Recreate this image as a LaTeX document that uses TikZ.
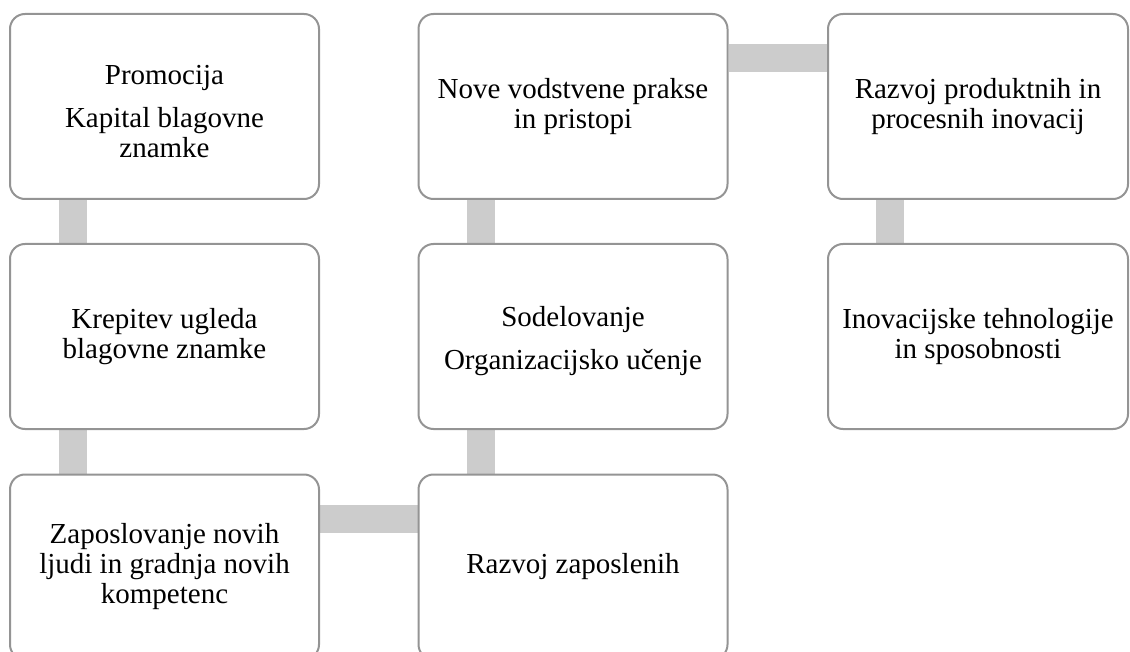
\documentclass[tikz,border=0pt]{standalone}
\usepackage{fontspec}
\setmainfont{Liberation Serif}
\usetikzlibrary{backgrounds}

\begin{document}
\begin{tikzpicture}[x=1pt,y=-1pt,
  box/.style={draw=black!42, line width=2pt, rounded corners=15pt, fill=white,
    minimum width=309pt, minimum height=185pt, align=center,
    font=\fontsize{29}{30}\selectfont},
  link/.style={draw=black!20, line width=28pt}]
\useasboundingbox (0,0) rectangle (1130,652);

\node[box] (1) at (164.5,106.5) {\rule{0pt}{30pt}Promocija\\[13pt]Kapital blagovne\\znamke};
\node[box] (2) at (164.5,336.5) {Krepitev ugleda\\blagovne znamke};
\node[box] (3) at (164.5,567) {Zaposlovanje novih\\ljudi in gradnja novih\\kompetenc};
\node[box] (4) at (573,567) {Razvoj zaposlenih};
\node[box] (5) at (573,336.5) {\rule{0pt}{30pt}Sodelovanje\\[13pt]Organizacijsko učenje};
\node[box] (6) at (573,106.5) {Nove vodstvene prakse\\in pristopi};
\node[box, minimum width=300pt] (7) at (978,106.5) {Razvoj produktnih in\\procesnih inovacij};
\node[box, minimum width=300pt] (8) at (978,336.5) {Inovacijske tehnologije\\in sposobnosti};

\begin{scope}[on background layer]
\path[link] ([xshift=64pt]1.south west) -- ([xshift=64pt]2.north west);
\path[link] ([xshift=64pt]2.south west) -- ([xshift=64pt]3.north west);
\path[link] ([yshift=-45.5pt]3.north east) -- ([yshift=-45.5pt]4.north west);
\path[link] ([xshift=63pt]4.north west) -- ([xshift=63pt]5.south west);
\path[link] ([xshift=63pt]5.north west) -- ([xshift=63pt]6.south west);
\path[link] ([yshift=-45.5pt]6.north east) -- ([yshift=-45.5pt]7.north west);
\path[link] ([xshift=63pt]7.south west) -- ([xshift=63pt]8.north west);
\end{scope}
\end{tikzpicture}
\end{document}
